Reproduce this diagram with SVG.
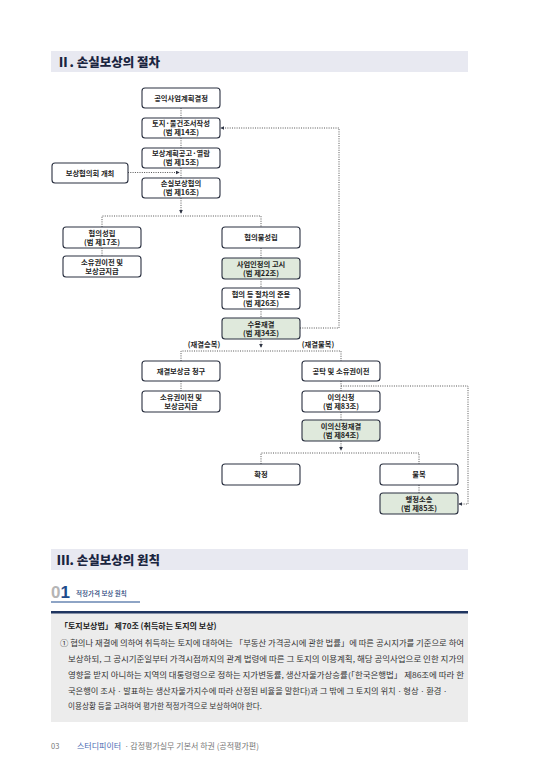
<svg xmlns="http://www.w3.org/2000/svg" width="544" height="769" viewBox="0 0 544 769">
<defs>
<style>
text{font-family:"Noto Sans CJK KR","Noto Sans",sans-serif;}
.box rect{fill:#fff;stroke:#2a3040;stroke-width:1.1;}
.box.g rect{fill:#dfe9dc;}
.box text{font-size:7.3px;fill:#1e1e1e;text-anchor:middle;font-weight:600;}
.lbl{font-size:7.3px;fill:#1e1e1e;text-anchor:middle;font-weight:600;}
#connectors path{fill:none;stroke:#555;stroke-width:1;stroke-dasharray:1 1.3;}
.hdr{font-size:12.5px;font-weight:900;fill:#1b2540;}
.body{font-size:7.6px;fill:#333;}
</style>
<marker id="ah" viewBox="0 0 6 6" refX="5" refY="3" markerWidth="4" markerHeight="4" orient="auto" markerUnits="userSpaceOnUse">
<path d="M0,0 L6,3 L0,6 z" fill="#2f3545"/>
</marker>
</defs>
<rect width="544" height="769" fill="#fff"/>

<!-- Section II header -->
<rect x="51" y="51" width="417" height="21" fill="#e8e9f1"/>
<text x="57" y="66.5" class="hdr">Ⅱ. 손실보상의 절차</text>

<g id="connectors">
<path d="M181,108 V118"/>
<path d="M181,138 V148"/>
<path d="M181,168 V178"/>
<path d="M128,172.5 H179" marker-end="url(#ah)"/>
<path d="M181,198 V213" marker-end="url(#ah)"/>
<path d="M102,227 V216 H261 V227"/>
<path d="M102,248 V256"/>
<path d="M261,248 V258"/>
<path d="M261,279 V288"/>
<path d="M261,309 V318"/>
<path d="M261,339 V347" marker-end="url(#ah)"/>
<path d="M181,361 V351 H341 V361"/>
<path d="M300,328 H339 V128 H221" marker-end="url(#ah)"/>
<path d="M181,381 V391"/>
<path d="M341,381 V391"/>
<path d="M341,412 V420"/>
<path d="M341,441 V450" marker-end="url(#ah)"/>
<path d="M261,464 V453 H419 V464"/>
<path d="M341,386 H468 V504 H459" marker-end="url(#ah)"/>
<path d="M419,485 V493"/>
</g>

<g id="n1" class="box"><rect x="142" y="88" width="78" height="20" rx="3"/><text x="181" y="100.5">공익사업계획결정</text></g>
<g id="n2" class="box"><rect x="142" y="118" width="78" height="20" rx="3"/><text x="181" y="126">토지·물건조서작성</text><text x="181" y="135">(법 제14조)</text></g>
<g id="n3" class="box"><rect x="142" y="148" width="78" height="20" rx="3"/><text x="181" y="156">보상계획공고·열람</text><text x="181" y="165">(법 제15조)</text></g>
<g id="n4" class="box"><rect x="142" y="178" width="78" height="20" rx="3"/><text x="181" y="186">손실보상협의</text><text x="181" y="195">(법 제16조)</text></g>
<g id="n5" class="box"><rect x="52" y="163" width="76" height="20" rx="3"/><text x="90" y="175.5">보상협의회 개최</text></g>
<g id="n6" class="box"><rect x="63" y="227" width="78" height="21" rx="3"/><text x="102" y="235.5">협의성립</text><text x="102" y="244.5">(법 제17조)</text></g>
<g id="n7" class="box"><rect x="63" y="256" width="78" height="21" rx="3"/><text x="102" y="264.5">소유권이전 및</text><text x="102" y="273.5">보상금지급</text></g>
<g id="n8" class="box"><rect x="222" y="227" width="78" height="21" rx="3"/><text x="261" y="240">협의불성립</text></g>
<g id="n9" class="box g"><rect x="222" y="258" width="78" height="21" rx="3"/><text x="261" y="266.5">사업인정의 고시</text><text x="261" y="275.5">(법 제22조)</text></g>
<g id="n10" class="box"><rect x="222" y="288" width="78" height="21" rx="3"/><text x="261" y="296.5">협의 등 절차의 준용</text><text x="261" y="305.5">(법 제26조)</text></g>
<g id="n11" class="box g"><rect x="222" y="318" width="78" height="21" rx="3"/><text x="261" y="326.5">수용재결</text><text x="261" y="335.5">(법 제34조)</text></g>
<text class="lbl" x="204" y="347">(재결승복)</text>
<text class="lbl" x="318" y="347">(재결불복)</text>
<g id="n12" class="box"><rect x="142" y="361" width="78" height="20" rx="3"/><text x="181" y="373.5">재결보상금 청구</text></g>
<g id="n13" class="box"><rect x="142" y="391" width="78" height="21" rx="3"/><text x="181" y="399.5">소유권이전 및</text><text x="181" y="408.5">보상금지급</text></g>
<g id="n14" class="box"><rect x="302" y="361" width="78" height="20" rx="3"/><text x="341" y="373.5">공탁 및 소유권이전</text></g>
<g id="n15" class="box"><rect x="302" y="391" width="78" height="21" rx="3"/><text x="341" y="399.5">이의신청</text><text x="341" y="408.5">(법 제83조)</text></g>
<g id="n16" class="box g"><rect x="302" y="420" width="78" height="21" rx="3"/><text x="341" y="428.5">이의신청재결</text><text x="341" y="437.5">(법 제84조)</text></g>
<g id="n17" class="box"><rect x="222" y="464" width="78" height="21" rx="3"/><text x="261" y="477">확정</text></g>
<g id="n18" class="box"><rect x="380" y="464" width="78" height="21" rx="3"/><text x="419" y="477">불복</text></g>
<g id="n19" class="box g"><rect x="380" y="493" width="78" height="21" rx="3"/><text x="419" y="501.5">행정소송</text><text x="419" y="510.5">(법 제85조)</text></g>

<!-- Section III -->
<rect x="51" y="549" width="417" height="21" fill="#e8e9f1"/>
<text x="57" y="564.5" class="hdr">Ⅲ. 손실보상의 원칙</text>

<text x="51" y="598" font-size="17" font-weight="700" style="font-family:'Liberation Sans',sans-serif"><tspan fill="#b5b5b5">0</tspan><tspan fill="#1e4b8c">1</tspan></text>
<text x="76" y="596" font-size="6.5" fill="#1e3f7a" font-weight="500">적정가격 보상 원칙</text>
<rect x="51" y="601.5" width="89" height="1" fill="#1e4b8c"/>

<rect x="51" y="612" width="417" height="110" fill="#ececec"/>
<rect x="51" y="611" width="417" height="2.5" fill="#1f3560"/>
<text x="60" y="629" font-size="8" font-weight="700" fill="#222">「토지보상법」 제70조 (취득하는 토지의 보상)</text>
<text class="body" x="60" y="646" textLength="404" lengthAdjust="spacingAndGlyphs">① 협의나 재결에 의하여 취득하는 토지에 대하여는 「부동산 가격공시에 관한 법률」에 따른 공시지가를 기준으로 하여</text>
<text class="body" x="68" y="662" textLength="396" lengthAdjust="spacingAndGlyphs">보상하되, 그 공시기준일부터 가격시점까지의 관계 법령에 따른 그 토지의 이용계획, 해당 공익사업으로 인한 지가의</text>
<text class="body" x="68" y="678" textLength="396" lengthAdjust="spacingAndGlyphs">영향을 받지 아니하는 지역의 대통령령으로 정하는 지가변동률, 생산자물가상승률(「한국은행법」 제86조에 따라 한</text>
<text class="body" x="68" y="693.5" textLength="381" lengthAdjust="spacingAndGlyphs">국은행이 조사ㆍ발표하는 생산자물가지수에 따라 산정된 비율을 말한다)과 그 밖에 그 토지의 위치ㆍ형상ㆍ환경ㆍ</text>
<text class="body" x="68" y="709">이용상황 등을 고려하여 평가한 적정가격으로 보상하여야 한다.</text>

<!-- footer -->
<text x="51" y="749" font-size="7.5" fill="#777">03</text>
<text x="77" y="749" font-size="8" fill="#777"><tspan fill="#4a6cb3">스터디피이터</tspan> ㆍ감정평가실무 기본서 하권 (공적평가편)</text>
</svg>
